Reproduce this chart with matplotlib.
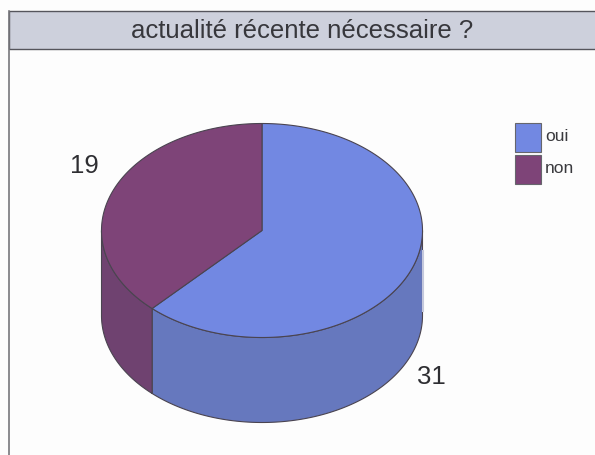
import numpy as np
import matplotlib
matplotlib.use("Agg")
import matplotlib.pyplot as plt
from matplotlib.patches import Polygon, Rectangle

title = "actualité récente nécessaire ?"
categories = ["oui", "non"]
values = [31, 19]
top_colors = ["#7288e2", "#7e4478"]
side_colors = ["#6678be", "#6f4270"]

plt.rcParams['font.family'] = ['Liberation Sans', 'DejaVu Sans']
fig = plt.figure(figsize=(5.95, 4.56), dpi=100, facecolor="#fdfdfd")
ax = fig.add_axes([0, 0, 1, 1])
ax.set_xlim(0, 595); ax.set_ylim(456, 0); ax.axis("off")

# frame and title band
ax.add_patch(Rectangle((8.5, 11.5), 600, 38.5, fc="#cdd0dc", ec="#55555c", lw=1.0))
ax.plot([8.5, 8.5], [11.5, 456], color="#77777c", lw=1.2)
ax.text(302, 31, title, ha="center", va="center", fontsize=18.5, color="#37373c")

cx, cy, a, b, depth = 262, 231.5, 160.5, 107, 85
edge = "#4a4450"

def pt(t, dy=0):
    return np.column_stack([cx + a*np.cos(t), cy - b*np.sin(t) + dy])

total = sum(values)
start = np.pi/2
bounds = [start]
for v in values:
    bounds.append(bounds[-1] - 2*np.pi*v/total)

# light sliver beside the right wall
ax.plot([cx + a + 0.5]*2, [cy + 20, cy + 80], color="#c4c8dc", lw=1.5)

# walls: front half of the cylinder only
for i in range(len(values)):
    hi, lo = bounds[i], bounds[i+1]
    lo2, hi2 = max(lo, -np.pi), min(hi, 0)
    if lo2 < hi2:
        t = np.linspace(hi2, lo2, 200)
        poly = np.vstack([pt(t), pt(t[::-1], depth)])
        ax.add_patch(Polygon(poly, closed=True, fc=side_colors[i], ec=edge, lw=0.8, joinstyle="round"))

# top slices
for i in range(len(values)):
    t = np.linspace(bounds[i], bounds[i+1], 300)
    poly = np.vstack([[cx, cy], pt(t)])
    ax.add_patch(Polygon(poly, closed=True, fc=top_colors[i], ec=edge, lw=0.8, joinstyle="round"))

# value labels
ax.text(84, 166, str(values[1]), ha="center", va="center", fontsize=18.5, color="#2e2e32")
ax.text(431, 377, str(values[0]), ha="center", va="center", fontsize=18.5, color="#2e2e32")

# legend
for i, (cat, y) in enumerate(zip(categories, [123.5, 155.5])):
    ax.add_patch(Rectangle((514.5, y), 26, 29, fc=top_colors[i], ec="#66666c", lw=0.8))
    ax.text(545, y + 13, cat, ha="left", va="center", fontsize=12.5, color="#3a3a3e")

fig.savefig("out.png", dpi=100, facecolor=fig.get_facecolor())
